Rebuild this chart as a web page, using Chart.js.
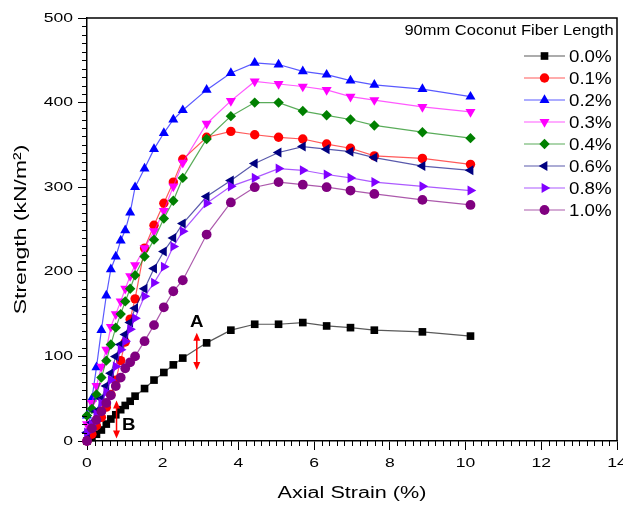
<!DOCTYPE html>
<html>
<head>
<meta charset="utf-8">
<title>Strength vs Axial Strain</title>
<script src="https://cdn.jsdelivr.net/npm/chart.js@4.4.1/dist/chart.umd.min.js"></script>
<style>
  html, body { margin: 0; padding: 0; background: #fff; overflow: hidden; }
  canvas { display: block; }
</style>
</head>
<body>
<canvas id="strengthChart" width="623" height="510"></canvas>
<script>
// axial strain (%) shared by every test series
var strain = [0, 0.13, 0.25, 0.38, 0.51, 0.63, 0.76, 0.89, 1.01, 1.14, 1.27, 1.52, 1.77, 2.03, 2.28, 2.53, 3.16, 3.80, 4.43, 5.06, 5.70, 6.33, 6.96, 7.59, 8.86, 10.13];

// strength (kN/m2) for each fiber content
var fiber00 = [0, 4, 8, 13, 20, 26, 31, 37, 42, 47, 53, 62, 72, 81, 90, 98, 116, 131, 138, 138, 140, 136, 134, 131, 129, 124];
var fiber01 = [0, 8, 18, 28, 40, 55, 72, 95, 117, 144, 168, 228, 255, 281, 306, 333, 359, 366, 362, 359, 357, 351, 346, 337, 334, 327];
var fiber02 = [30, 50, 87, 131, 172, 203, 218, 237, 249, 270, 300, 322, 345, 364, 380, 391, 415, 435, 447, 445, 437, 433, 426, 421, 416, 407];
var fiber03 = [20, 45, 65, 88, 108, 135, 150, 165, 180, 195, 208, 228, 248, 272, 301, 329, 375, 402, 425, 422, 419, 415, 407, 403, 395, 389];
var fiber04 = [30, 38, 55, 75, 95, 114, 134, 150, 165, 180, 196, 218, 238, 263, 284, 311, 357, 384, 400, 400, 390, 385, 380, 373, 365, 358];
var fiber06 = [10, 22, 35, 50, 65, 80, 100, 114, 126, 140, 157, 180, 204, 224, 240, 257, 289, 308, 328, 341, 348, 345, 342, 335, 325, 320];
var fiber08 = [10, 20, 32, 45, 58, 72, 88, 108, 118, 132, 145, 171, 187, 206, 230, 248, 281, 301, 311, 322, 320, 315, 311, 306, 301, 296];
var fiber10 = [0, 15, 25, 35, 45, 54, 65, 75, 86, 93, 100, 118, 137, 158, 177, 190, 244, 282, 300, 306, 303, 300, 296, 292, 285, 279];

var seriesValues = [fiber00, fiber01, fiber02, fiber03, fiber04, fiber06, fiber08, fiber10];
var seriesLabels = ["0.0%", "0.1%", "0.2%", "0.3%", "0.4%", "0.6%", "0.8%", "1.0%"];
var seriesColors = ["#000000", "#ff0000", "#0000ff", "#ff00ff", "#008000", "#000080", "#8000ff", "#800080"];
var seriesShapes = ["rect", "circle", "triangle", "triangle", "rectRot", "triangle", "triangle", "circle"];
var seriesRotation = [0, 0, 0, 180, 0, 270, 90, 0];
var seriesRadius = [5.4, 4.7, 5.8, 5.8, 5.2, 5.8, 5.8, 4.9];

var legendTitle = "90mm Coconut Fiber Length";
var xTicks = [0, 2, 4, 6, 8, 10, 12, 14];
var yTicks = [0, 100, 200, 300, 400, 500];

// marked points: [strain, low strength, high strength, label strain, label strength, text]
var markA = [2.90, 84, 128, 2.90, 140, "A"];
var markB = [0.78, 3, 48, 1.10, 19, "B"];

var FONT = '"Liberation Sans", Arial, sans-serif';
Chart.defaults.font.family = FONT;

function hexToRgba(hex, a) {
    var n = parseInt(hex.slice(1), 16);
    return "rgba(" + (n >> 16) + "," + ((n >> 8) & 255) + "," + (n & 255) + "," + a + ")";
}

// Origin-style wide lettering: stretch text horizontally around its anchor
function widenText(ctx, k) {
    var fill = ctx.fillText.bind(ctx);
    var measure = ctx.measureText.bind(ctx);
    ctx.textStretch = k;
    ctx.fillText = function (text, x, y) {
        this.save();
        this.translate(x, y);
        this.scale(this.textStretch, 1);
        fill(text, 0, 0);
        this.restore();
    };
    ctx.measureText = function (text) {
        var m = measure(text);
        return {
            width: m.width * this.textStretch,
            actualBoundingBoxAscent: m.actualBoundingBoxAscent,
            actualBoundingBoxDescent: m.actualBoundingBoxDescent
        };
    };
}

var datasets = seriesValues.map(function (values, i) {
    return {
        label: seriesLabels[i],
        data: values.map(function (v, j) { return { x: strain[j], y: v }; }),
        borderColor: hexToRgba(seriesColors[i], 0.65),
        backgroundColor: seriesColors[i],
        borderWidth: 1.2,
        pointStyle: seriesShapes[i],
        pointRotation: seriesRotation[i],
        pointRadius: seriesRadius[i],
        pointBackgroundColor: seriesColors[i],
        pointBorderWidth: 0,
        tension: 0,
        clip: false,
        order: seriesValues.length - i
    };
});

var frameAndTicks = {
    id: "frameAndTicks",
    afterDraw: function (chart) {
        var ctx = chart.ctx, area = chart.chartArea;
        var xs = chart.scales.x, ys = chart.scales.y;
        ctx.save();
        ctx.strokeStyle = "#000";
        ctx.lineWidth = 1;
        ctx.beginPath();
        for (var i = 0; i <= 50; i++) {
            if (i % 10 === 0) continue;
            var py = Math.round(ys.getPixelForValue(i * 10)) + 0.5;
            ctx.moveTo(area.left - 5, py);
            ctx.lineTo(area.left, py);
        }
        for (var j = 0; j <= 70; j++) {
            if (j % 10 === 0) continue;
            var px = Math.round(xs.getPixelForValue(j * 0.2)) + 0.5;
            ctx.moveTo(px, area.bottom);
            ctx.lineTo(px, area.bottom + 5);
        }
        ctx.stroke();
        // top and right edges of the plot box
        ctx.lineWidth = 1.5;
        ctx.beginPath();
        ctx.moveTo(area.left, area.top);
        ctx.lineTo(area.right, area.top);
        ctx.lineTo(area.right, area.bottom);
        ctx.stroke();
        ctx.restore();
    }
};

function drawDoubleArrow(ctx, x, y1, y2) {
    ctx.beginPath();
    ctx.moveTo(x, y1 + 6);
    ctx.lineTo(x, y2 - 6);
    ctx.stroke();
    ctx.beginPath();
    ctx.moveTo(x, y1);
    ctx.lineTo(x - 3.5, y1 + 8);
    ctx.lineTo(x + 3.5, y1 + 8);
    ctx.closePath();
    ctx.moveTo(x, y2);
    ctx.lineTo(x - 3.5, y2 - 8);
    ctx.lineTo(x + 3.5, y2 - 8);
    ctx.closePath();
    ctx.fill();
}

var marks = {
    id: "marks",
    afterDatasetsDraw: function (chart) {
        var ctx = chart.ctx, xs = chart.scales.x, ys = chart.scales.y;
        ctx.save();
        [markA, markB].forEach(function (m) {
            ctx.strokeStyle = "#ff0000";
            ctx.fillStyle = "#ff0000";
            ctx.lineWidth = 1.5;
            drawDoubleArrow(ctx, xs.getPixelForValue(m[0]), ys.getPixelForValue(m[2]), ys.getPixelForValue(m[1]));
            ctx.textStretch = 1.1;
            ctx.fillStyle = "#000";
            ctx.font = "bold 17px " + FONT;
            ctx.textAlign = "center";
            ctx.textBaseline = "middle";
            ctx.fillText(m[5], xs.getPixelForValue(m[3]), ys.getPixelForValue(m[4]));
        });
        ctx.textStretch = 1.35;
        ctx.restore();
    }
};

var sideLegend = {
    id: "sideLegend",
    afterDraw: function (chart) {
        var ctx = chart.ctx;
        ctx.save();
        ctx.textStretch = 1.1;
        ctx.fillStyle = "#000";
        ctx.font = "15px " + FONT;
        ctx.textAlign = "center";
        ctx.textBaseline = "middle";
        ctx.fillText(legendTitle, 509, 31);
        ctx.font = "17px " + FONT;
        ctx.textAlign = "left";
        chart.data.datasets.forEach(function (ds, i) {
            var y = 56 + i * 22;
            ctx.strokeStyle = ds.borderColor;
            ctx.lineWidth = 1.2;
            ctx.beginPath();
            ctx.moveTo(524, y);
            ctx.lineTo(565, y);
            ctx.stroke();
            ctx.fillStyle = ds.pointBackgroundColor;
            Chart.helpers.drawPoint(ctx, {
                pointStyle: ds.pointStyle,
                rotation: ds.pointRotation,
                radius: ds.pointRadius,
                borderWidth: 0
            }, 544.5, y);
            ctx.fillStyle = "#000";
            ctx.fillText(ds.label, 569, y + 1);
        });
        ctx.textStretch = 1.35;
        ctx.restore();
    }
};

var canvas = document.getElementById("strengthChart");
widenText(canvas.getContext("2d"), 1.35);

var strengthChart = new Chart(canvas, {
    type: "line",
    data: { datasets: datasets },
    options: {
        responsive: false,
        devicePixelRatio: 1,
        animation: false,
        layout: { padding: { top: 18, right: 6, left: 0, bottom: 0 } },
        plugins: {
            legend: { display: false },
            tooltip: { enabled: false }
        },
        scales: {
            x: {
                type: "linear",
                min: 0,
                max: 14,
                afterBuildTicks: function (s) { s.ticks = xTicks.map(function (v) { return { value: v }; }); },
                afterFit: function (s) { s.height = 69; s.paddingLeft = 0; s.paddingRight = 0; },
                grid: { drawOnChartArea: false, tickLength: 9, color: "#000", lineWidth: 1 },
                border: { color: "#000", width: 1.5 },
                ticks: { padding: 6, color: "#000", font: { size: 13 }, maxRotation: 0, autoSkip: false },
                title: {
                    display: true,
                    text: "Axial Strain (%)",
                    color: "#000",
                    font: { size: 16 },
                    padding: { top: 0, bottom: 7 }
                }
            },
            y: {
                type: "linear",
                min: 0,
                max: 500,
                afterBuildTicks: function (s) { s.ticks = yTicks.map(function (v) { return { value: v }; }); },
                afterFit: function (s) { s.width = 87; s.paddingTop = 0; s.paddingBottom = 0; },
                grid: { drawOnChartArea: false, tickLength: 9, color: "#000", lineWidth: 1 },
                border: { color: "#000", width: 1.5 },
                ticks: { padding: 5, color: "#000", font: { size: 13 } },
                title: {
                    display: true,
                    text: "Strength (kN/m²)",
                    color: "#000",
                    font: { size: 17 },
                    padding: { top: 11, bottom: 0 }
                }
            }
        }
    },
    plugins: [frameAndTicks, marks, sideLegend]
});
</script>
</body>
</html>
